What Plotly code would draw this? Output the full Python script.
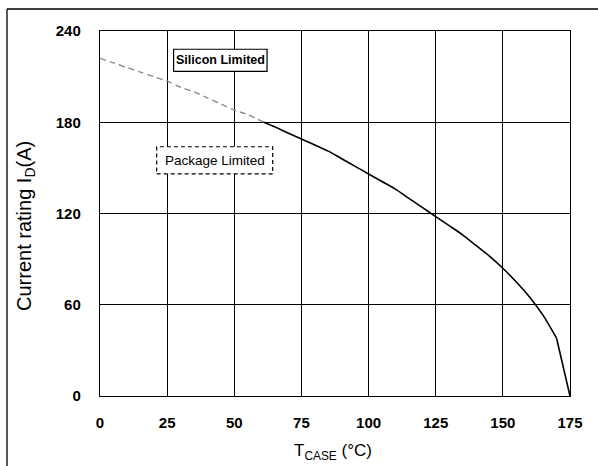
import plotly.graph_objects as go

# Case temperature (°C) and drain current rating (A)
temp_silicon = [0, 5, 10, 15, 20, 25, 30, 35, 40, 45, 50, 55, 61]
current_silicon = [222, 219, 216, 213, 210, 207, 203, 200, 196, 192, 188, 185, 180]

temp_rating = [61, 65, 70, 75, 80, 85, 90, 95, 100, 105, 110, 115, 120, 125,
               130, 135, 140, 145, 150, 155, 160, 165, 170, 175]
current_rating = [180, 177, 173, 169, 165, 161, 156, 151, 146, 141, 136, 130, 124, 118,
                  112, 106, 99, 92, 84, 75, 65, 53, 38, 0]

x_ticks = [0, 25, 50, 75, 100, 125, 150, 175]
y_ticks = [0, 60, 120, 180, 240]

FONT = "Liberation Sans, Arial, sans-serif"

fig = go.Figure()

# Silicon limit extrapolation (dashed)
fig.add_trace(go.Scatter(
    x=temp_silicon, y=current_silicon, mode="lines",
    line=dict(color="#8c8c8c", width=1.4, dash="6px,4px", shape="spline", smoothing=0.8),
    showlegend=False, hoverinfo="skip",
))

# Current rating: smooth derating curve, then the straight drop to zero at Tj max
fig.add_trace(go.Scatter(
    x=temp_rating[:-1], y=current_rating[:-1], mode="lines",
    line=dict(color="black", width=1.6, shape="spline", smoothing=0.8),
    showlegend=False,
))
fig.add_trace(go.Scatter(
    x=temp_rating[-2:], y=current_rating[-2:], mode="lines",
    line=dict(color="black", width=1.6),
    showlegend=False,
))

L, R, T, B = 100, 28, 31, 70
W, H = 598, 466
pw, ph = W - L - R, H - T - B

def px(x):
    return (x - L) / pw

def py(y):
    return (H - B - y) / ph

shapes = [
    # outer frame (left and top edges)
    dict(type="line", xref="paper", yref="paper", x0=px(7), x1=px(7), y0=py(9), y1=py(470),
         line=dict(color="black", width=1.3)),
    dict(type="line", xref="paper", yref="paper", x0=px(7), x1=px(620), y0=py(9), y1=py(9),
         line=dict(color="black", width=1.3)),
    # label boxes
    dict(type="rect", xref="x", yref="y", x0=27.4, x1=62.2, y0=213.4, y1=228.0,
         line=dict(color="black", width=1.2), fillcolor="white", layer="above"),
    dict(type="rect", xref="x", yref="y", x0=21.1, x1=64.3, y0=146.0, y1=163.9,
         line=dict(color="black", width=1.2, dash="4px,3px"), fillcolor="white", layer="above"),
]

annotations = [
    dict(x=44.8, y=220.7, xref="x", yref="y", text="Silicon Limited", showarrow=False,
         font=dict(family=FONT, size=12.5, color="black", weight="bold")),
    dict(x=42.7, y=155.0, xref="x", yref="y", text="Package Limited", showarrow=False,
         font=dict(family=FONT, size=13.5, color="black")),
    dict(x=px(25), y=py(226), xref="paper", yref="paper", textangle=-90,
         xanchor="center", yanchor="middle",
         text="Current rating I<sub>D</sub>(A)", showarrow=False,
         font=dict(family=FONT, size=20, color="black")),
    dict(x=px(333), y=py(452), xref="paper", yref="paper",
         xanchor="center", yanchor="middle",
         text="T<sub>CASE</sub> (°C)", showarrow=False,
         font=dict(family=FONT, size=17, color="black")),
]

axis_common = dict(
    showgrid=True, gridcolor="black", gridwidth=1.2,
    showline=True, linecolor="black", linewidth=1.4, mirror=True,
    zeroline=False, ticks="",
    tickfont=dict(family=FONT, size=15, color="black", weight="bold"),
)

fig.update_layout(
    width=W, height=H,
    margin=dict(l=L, r=R, t=T, b=B),
    paper_bgcolor="white", plot_bgcolor="white",
    xaxis=dict(range=[0, 175], tickvals=x_ticks, ticklabelstandoff=13, **axis_common),
    yaxis=dict(range=[0, 240], tickvals=y_ticks, ticklabelstandoff=15, **axis_common),
    shapes=shapes,
    annotations=annotations,
)

fig.write_html("out.html")
